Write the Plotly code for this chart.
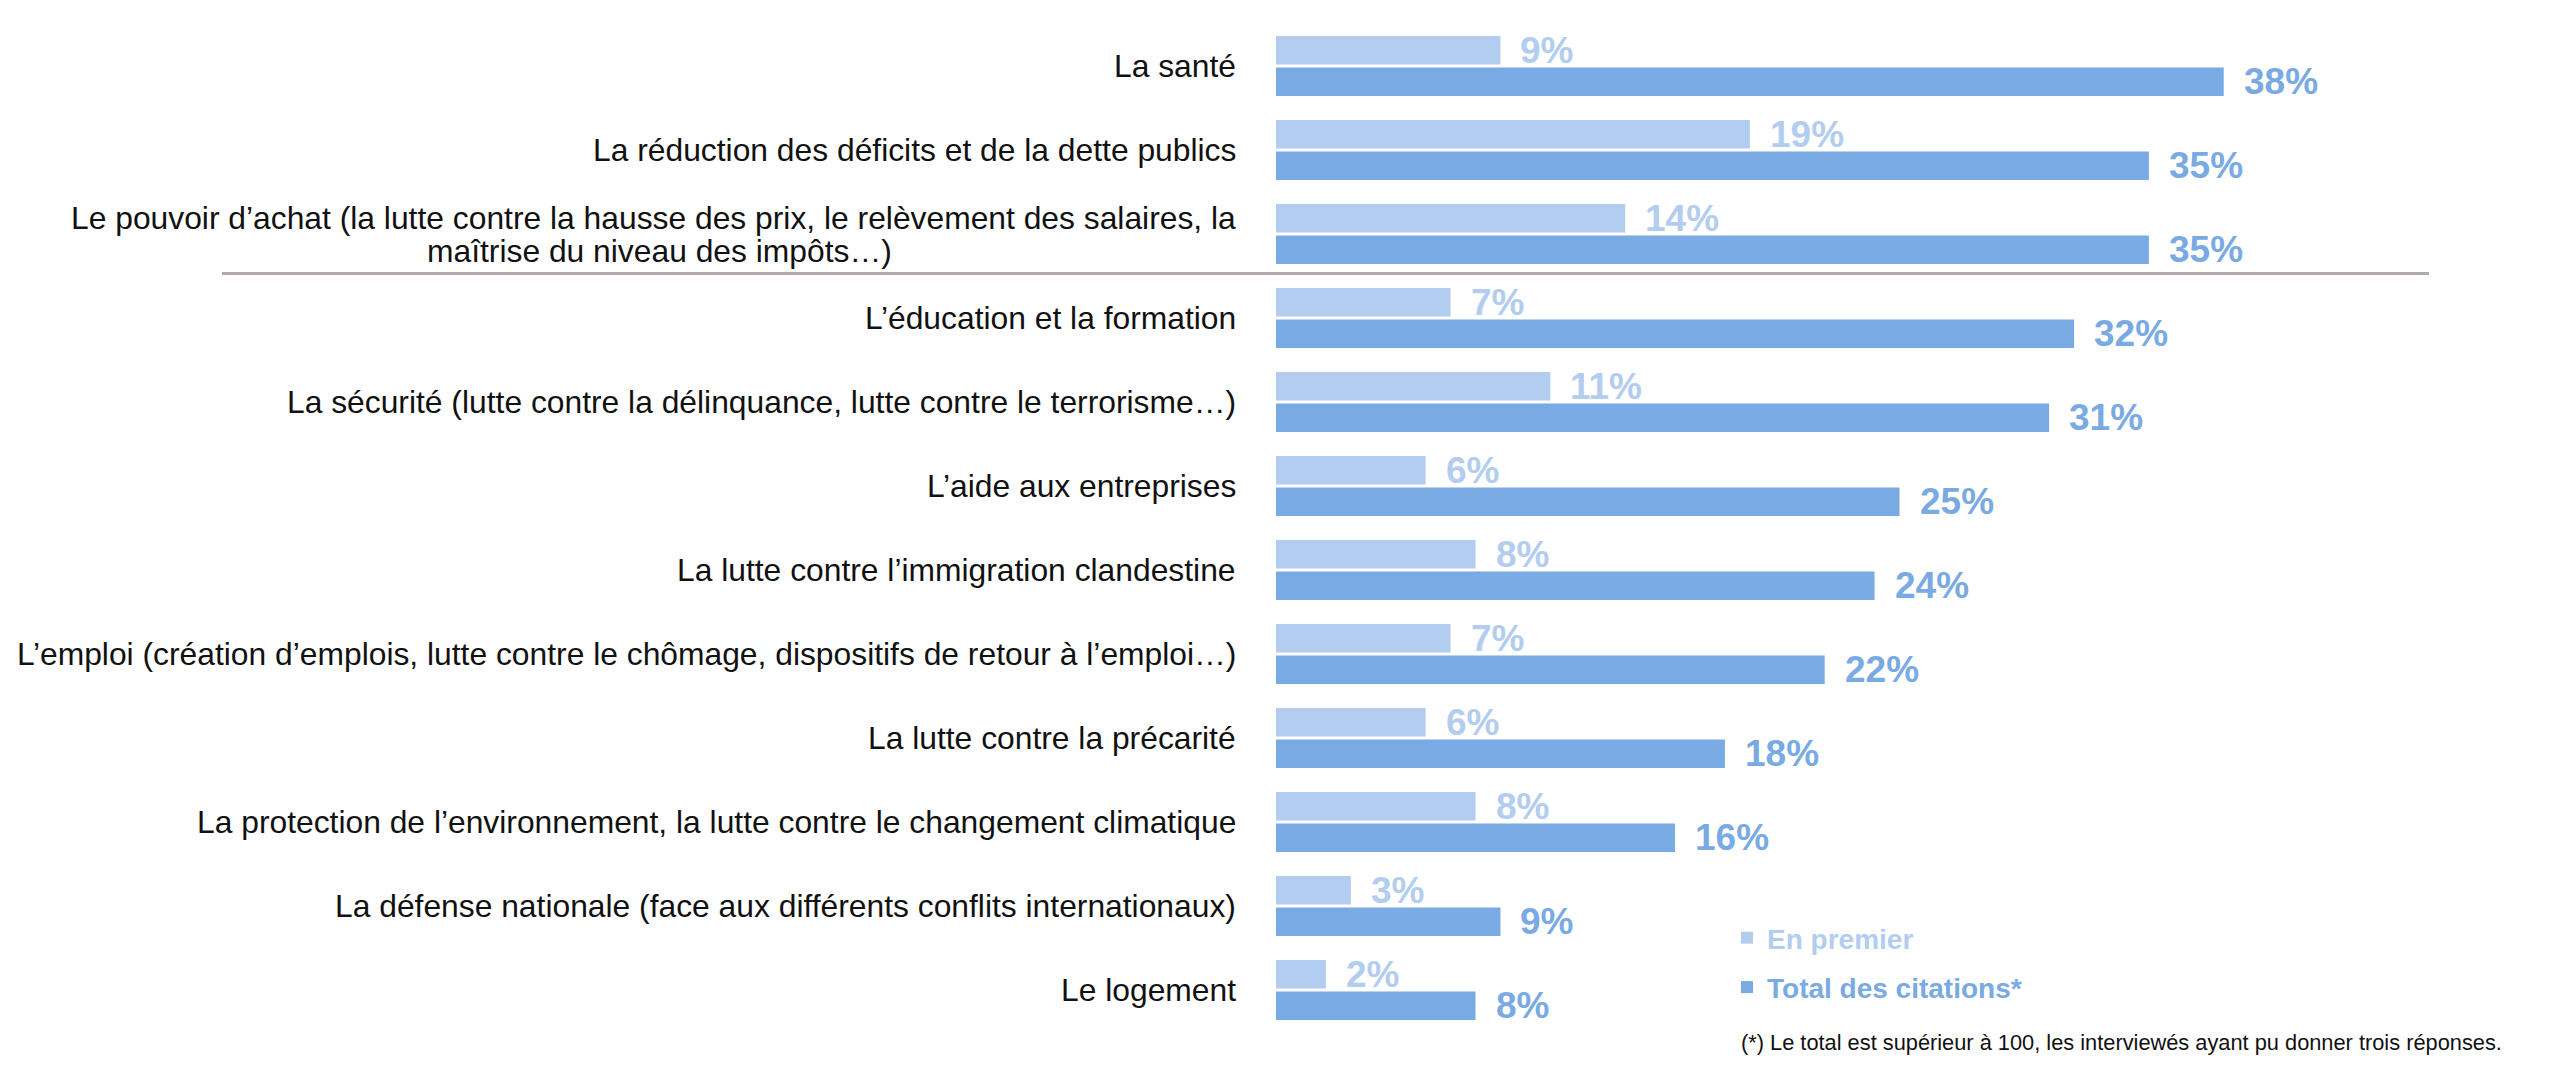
import plotly.graph_objects as go

categories = [
    "La santé",
    "La réduction des déficits et de la dette publics",
    "Le pouvoir d’achat (la lutte contre la hausse des prix, le relèvement des salaires, la<br>maîtrise du niveau des impôts…)",
    "L’éducation et la formation",
    "La sécurité (lutte contre la délinquance, lutte contre le terrorisme…)",
    "L’aide aux entreprises",
    "La lutte contre l’immigration clandestine",
    "L’emploi (création d’emplois, lutte contre le chômage, dispositifs de retour à l’emploi…)",
    "La lutte contre la précarité",
    "La protection de l’environnement, la lutte contre le changement climatique",
    "La défense nationale (face aux différents conflits internationaux)",
    "Le logement",
]
en_premier = [9, 19, 14, 7, 11, 6, 8, 7, 6, 8, 3, 2]
total_citations = [38, 35, 35, 32, 31, 25, 24, 22, 18, 16, 9, 8]
series_names = ["En premier", "Total des citations*"]
footnote = "(*) Le total est supérieur à 100, les interviewés ayant pu donner trois réponses."

LIGHT = "#B3CDF0"
DARK = "#7AAAE3"
FONT = "Liberation Sans, Arial, sans-serif"

W, H = 2560, 1073
L, R, T, B = 1276, 0, 24, 41
plot_w = W - L - R
plot_h = H - T - B


def px_x(p):
    return (p - L) / plot_w


def px_y(p):
    return (H - B - p) / plot_h


fig = go.Figure()
fig.add_trace(go.Bar(
    y=categories, x=en_premier, orientation="h",
    marker=dict(color=LIGHT, line=dict(width=0)),
    name=f"<b><span style='color:{LIGHT}'>{series_names[0]}</span></b>",
    legendgroup="a", hoverinfo="skip",
))
fig.add_trace(go.Bar(
    y=categories, x=total_citations, orientation="h",
    marker=dict(color=DARK, line=dict(width=0)),
    name=f"<b><span style='color:{DARK}'>{series_names[1]}</span></b>",
    legendgroup="b", hoverinfo="skip",
))

row_h = plot_h / len(categories)
bargap = 0.25
bargroupgap = 0.1
slot = row_h * (1 - bargap) / 2
off = slot / 2

LABEL_SIZE = 31.8
LINE_STEP = 33
MULTI_CENTER_X = 659

annotations = []
for cat, v1, v2 in zip(categories, en_premier, total_citations):
    annotations.append(dict(
        x=v1, y=cat, xref="x", yref="y", text=f"<b>{v1}%</b>",
        showarrow=False, xanchor="left", yanchor="middle", xshift=18, yshift=off,
        font=dict(family=FONT, size=37, color=LIGHT),
    ))
    annotations.append(dict(
        x=v2, y=cat, xref="x", yref="y", text=f"<b>{v2}%</b>",
        showarrow=False, xanchor="left", yanchor="middle", xshift=18, yshift=-off,
        font=dict(family=FONT, size=37, color=DARK),
    ))
    lines = cat.split("<br>")
    n = len(lines)
    for i, line in enumerate(lines):
        ys = ((n - 1) / 2 - i) * LINE_STEP
        if i == 0:
            annotations.append(dict(
                x=0, y=cat, xref="paper", yref="y", text=line,
                showarrow=False, xanchor="right", yanchor="middle",
                xshift=-38, yshift=ys,
                font=dict(family=FONT, size=LABEL_SIZE, color="#111111"),
            ))
        else:
            annotations.append(dict(
                x=px_x(MULTI_CENTER_X), y=cat, xref="paper", yref="y", text=line,
                showarrow=False, xanchor="center", yanchor="middle", yshift=ys,
                font=dict(family=FONT, size=LABEL_SIZE, color="#111111"),
            ))

annotations.append(dict(
    x=px_x(1739), y=px_y(1042), xref="paper", yref="paper",
    text=footnote, showarrow=False, xanchor="left", yanchor="middle",
    font=dict(family=FONT, size=21.8, color="#111111"),
))

shapes = [dict(
    type="line", xref="paper", yref="y",
    x0=px_x(222), x1=px_x(2429), y0=2.47, y1=2.47,
    line=dict(color="#B2AAA7", width=3),
)]

fig.update_layout(
    width=W, height=H,
    margin=dict(l=L, r=R, t=T, b=B, pad=0),
    paper_bgcolor="white", plot_bgcolor="white",
    barmode="group", bargap=bargap, bargroupgap=bargroupgap,
    xaxis=dict(range=[0, plot_w / 24.94], visible=False, fixedrange=True),
    yaxis=dict(autorange="reversed", showticklabels=False, showgrid=False,
               zeroline=False, showline=False, ticks="", fixedrange=True),
    showlegend=True,
    legend=dict(
        x=px_x(1727), y=px_y(913), xanchor="left", yanchor="top",
        traceorder="grouped", tracegroupgap=10,
        font=dict(family=FONT, size=28),
        bgcolor="rgba(0,0,0,0)", borderwidth=0,
    ),
    annotations=annotations,
    shapes=shapes,
)

fig.write_html("out.html", config={"displayModeBar": False},
               post_script="document.body.style.margin='0';")
